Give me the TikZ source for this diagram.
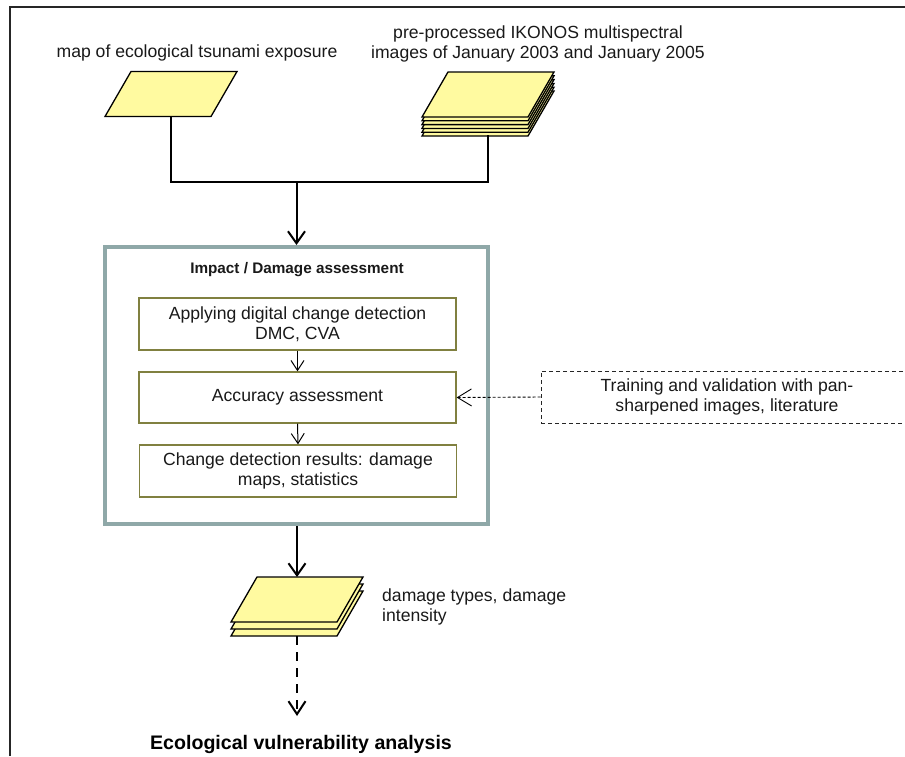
\documentclass[tikz,border=0pt]{standalone}
\usepackage{fontspec}
\setmainfont{Liberation Sans}
\usetikzlibrary{arrows.meta,calc}

\definecolor{sheetfill}{RGB}{255,250,160}
\definecolor{framegrey}{RGB}{143,168,168}
\definecolor{stepolive}{RGB}{128,128,64}
\definecolor{inktext}{RGB}{25,25,25}

\tikzset{
  x=1pt, y=-1pt,
  % invisible placeholder that carries the anchors of a sheet symbol
  sheetbox/.style={minimum width=132pt, inner sep=0pt, outer sep=0pt, draw=none},
  sheetline/.style={draw=black, line width=1.3pt, fill=sheetfill, line join=miter},
  % one skewed document sheet, centred on the pic origin
  sheet/.pic={\path[sheetline] (-66,22.5) -- (40,22.5) -- (66,-22.5) -- (-40,-22.5) -- cycle;},
  lbl/.style={font=\fontsize{17.6pt}{20.5pt}\selectfont, text=inktext, inner sep=0pt, align=center},
  boxtitle/.style={font=\fontsize{15.3pt}{18pt}\selectfont\bfseries, text=inktext, inner sep=0pt},
  finaltext/.style={font=\fontsize{19.6pt}{22pt}\selectfont\bfseries, text=black, inner sep=0pt},
  bigbox/.style={draw=framegrey, line width=4pt, minimum width=383pt, minimum height=277pt, inner sep=0pt},
  stepbox/.style={draw=stepolive, line width=1.3pt, fill=white, minimum width=317pt,
    minimum height=52pt, inner sep=0pt, align=center, font=\fontsize{17.6pt}{20.5pt}\selectfont, text=inktext},
  trainbox/.style={draw=black!85, line width=1pt, dash pattern=on 4pt off 3pt, minimum width=372pt,
    minimum height=52pt, inner sep=0pt, align=center, font=\fontsize{17.6pt}{20.5pt}\selectfont, text=inktext},
  conn/.style={draw=black, line width=2pt},
  bigtip/.style={-{Straight Barb[length=12pt,width=17pt]}},
  thinarrow/.style={draw=black, line width=1pt, -{Straight Barb[length=10pt,width=13pt]}},
  dasharrow/.style={draw=black, line width=0.9pt, dash pattern=on 3pt off 2pt,
    -{Straight Barb[length=14pt,width=17pt]}},
  bigdash/.style={draw=black, line width=2pt, dash pattern=on 9pt off 7pt,
    -{Straight Barb[length=13pt,width=17pt]}},
}

\begin{document}
\begin{tikzpicture}
\useasboundingbox (0,0) rectangle (905,756);

% page frame (top and left edges)
\draw[draw=black!85, line width=2pt] (10,756) -- (10,7) -- (905,7);

% input labels
\node[lbl] (maplabel) at (197,53) {map of ecological tsunami exposure};
\node[lbl] (ikonoslabel) at (538,44) {pre-processed IKONOS multispectral\\images of January 2003 and January 2005};

% input sheets
\node[sheetbox, minimum height=45pt] (map) at (171,94) {};
\pic at (map.center) {sheet};

\node[sheetbox, minimum height=63pt] (ikonos) at (488,103.5) {};
\foreach \d in {19,15.2,11.4,7.6,3.8,0}
  \pic at ($(ikonos.north)+(0,{22.5+\d})$) {sheet};

% assessment block
\node[bigbox] (assess) at (296.5,385.5) {};
\node[boxtitle] (assesstitle) at (297,270) {Impact / Damage assessment};
\node[stepbox] (detect) at (297.5,324) {Applying digital change detection\\DMC, CVA};
\node[stepbox, minimum height=51pt] (accuracy) at (297.5,397.5) {Accuracy assessment};
\node[stepbox] (results) at (298,471) {Change detection results: damage\\maps, statistics};

% external reference data
\node[trainbox] (train) at (727,397) {Training and validation with pan-\\sharpened images, literature};

% output sheets
\node[sheetbox, minimum height=59pt] (damage) at (297,606.5) {};
\foreach \d in {14,7,0}
  \pic at ($(damage.north)+(0,{22.5+\d})$) {sheet};
\node[lbl, anchor=west, align=left] (damagelabel) at (382,607) {damage types, damage\\intensity};

\node[finaltext] (eva) at (301,744) {Ecological vulnerability analysis};

% connectors
\coordinate (join) at (296.5,182);
\coordinate (evain) at (297,716);
\draw[conn] (map.south) |- (join) -| (ikonos.south);
\draw[conn, bigtip] (join) -- (assess.north);
\draw[thinarrow] (detect.south) -- (accuracy.north);
\draw[thinarrow] (accuracy.south) -- (results.north);
\draw[dasharrow] (train.west) -- (accuracy.east);
\draw[conn, bigtip] (assess.south -| damage.north) -- (damage.north);
\draw[bigdash] (damage.south) -- (evain);
\end{tikzpicture}
\end{document}
